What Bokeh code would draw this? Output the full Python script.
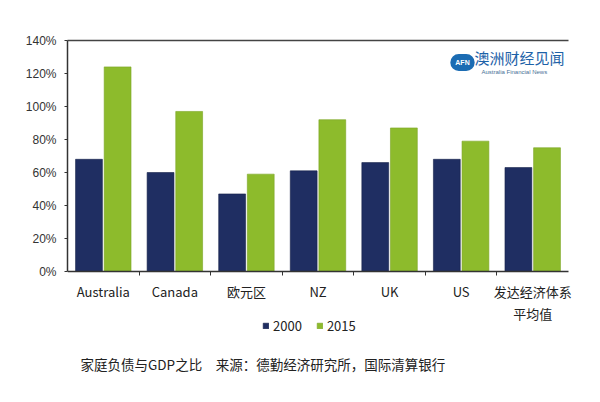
from bokeh.plotting import figure
from bokeh.models import (ColumnDataSource, Range1d, FixedTicker, PrintfTickFormatter,
                          LinearAxis, Legend, LegendItem, Label)
from bokeh.transform import dodge
from bokeh.embed import file_html
from bokeh.resources import INLINE

categories = ["Australia", "Canada", "欧元区", "NZ", "UK", "US", "发达经济体系\n平均值"]
series_2000 = [68, 60, 47, 61, 66, 68, 63]
series_2015 = [124, 97, 59, 92, 87, 79, 75]
y_ticks = [0, 20, 40, 60, 80, 100, 120, 140]
legend_labels = ["2000", "2015"]
caption = "家庭负债与GDP之比\u3000来源：德勤经济研究所，国际清算银行"

NAVY = "#1F2E62"
GREEN = "#8DBB2C"
CJK = "Noto Sans CJK SC"

pos = list(range(len(categories)))
src = ColumnDataSource(dict(x=pos, cat=categories, v2000=series_2000, v2015=series_2015))

# frame spans x 67..590 and y 40..395; 0% sits at y=271, 140% at y=40; last group ends at x=568
x_end = len(categories) - 0.5
p = figure(x_range=Range1d(-0.5, x_end + 22 / 71.57), y_range=Range1d(-75.15, 140),
           width=600, height=402, output_backend="svg", toolbar_location=None,
           x_axis_location=None, y_axis_location=None,
           min_border_left=67, min_border_right=10, min_border_top=40, min_border_bottom=7)
p.grid.visible = False
p.outline_line_color = None
p.background_fill_color = "white"
p.border_fill_color = "white"

r1 = p.vbar(x=dodge("x", -0.2), top="v2000", width=0.375, source=src,
            fill_color=NAVY, line_color="#15214a", line_width=0.6)
r2 = p.vbar(x=dodge("x", 0.2), top="v2015", width=0.375, source=src,
            fill_color=GREEN, line_color="#7aa524", line_width=0.6)

# left axis
ya = LinearAxis(ticker=FixedTicker(ticks=y_ticks), formatter=PrintfTickFormatter(format="%d%%"),
                bounds=(0, 140))
ya.axis_line_color = "#333333"
ya.axis_line_width = 1.5
ya.major_tick_line_color = "#333333"
ya.major_tick_out = 3
ya.major_tick_in = 0
ya.minor_tick_line_color = None
ya.major_label_text_font = "Liberation Sans"
ya.major_label_text_font_size = "12px"
ya.major_label_text_color = "#333333"
ya.major_label_standoff = 8
p.add_layout(ya, "left")

# top border line
ta = LinearAxis(ticker=FixedTicker(ticks=[]), bounds=(-0.5, x_end))
ta.axis_line_color = "#444444"
ta.axis_line_width = 1.5
ta.major_tick_line_color = None
ta.minor_tick_line_color = None
ta.major_label_text_font_size = "0px"
p.add_layout(ta, "above")

# bottom axis at 0%: category labels, ticks at group boundaries
bounds = [i + 0.5 for i in pos[:-1]]
ba = LinearAxis(ticker=FixedTicker(ticks=pos, minor_ticks=bounds), fixed_location=0,
                bounds=(-0.5, x_end))
ba.major_label_overrides = {i: c for i, c in zip(pos, categories)}
ba.axis_line_color = "#333333"
ba.axis_line_width = 1.5
ba.major_tick_line_color = None
ba.major_tick_out = 0
ba.major_tick_in = 0
ba.minor_tick_line_color = "#333333"
ba.minor_tick_out = 4
ba.minor_tick_in = 0
ba.major_label_text_font = CJK
ba.major_label_text_font_size = "13px"
ba.major_label_text_color = "#222222"
ba.major_label_standoff = 6
p.add_layout(ba, "below")

legend = Legend(items=[LegendItem(label=legend_labels[0], renderers=[r1]),
                       LegendItem(label=legend_labels[1], renderers=[r2])],
                orientation="horizontal", location=(195, 60),
                glyph_width=7, glyph_height=7, label_standoff=4, spacing=14,
                padding=0, margin=0, border_line_color=None, background_fill_alpha=0,
                label_text_font=CJK, label_text_font_size="13px", label_text_color="#222222",
                label_height=14)
p.add_layout(legend, "center")

p.add_layout(Label(x=13, y=32, x_units="screen", y_units="screen", text=caption,
                   text_font=CJK, text_font_size="13.5px", text_color="#222222",
                   text_baseline="middle"))

# logo
p.add_layout(Label(x=395, y=333, x_units="screen", y_units="screen", text="AFN",
                   text_font="Liberation Sans", text_font_style="bold", text_font_size="7px",
                   text_color="white", text_align="center", text_baseline="middle",
                   background_fill_color="#1B6CB3", border_radius=9, padding=5))
p.add_layout(Label(x=407, y=338, x_units="screen", y_units="screen", text="澳洲财经见闻",
                   text_font=CJK, text_font_size="15px", text_color="#1D62A8",
                   text_baseline="middle"))
p.add_layout(Label(x=414, y=324, x_units="screen", y_units="screen", text="Australia Financial News",
                   text_font="Liberation Sans", text_font_size="6px", text_color="#4A6F96",
                   text_baseline="middle"))

open("out.html", "w").write(file_html(p, INLINE))
